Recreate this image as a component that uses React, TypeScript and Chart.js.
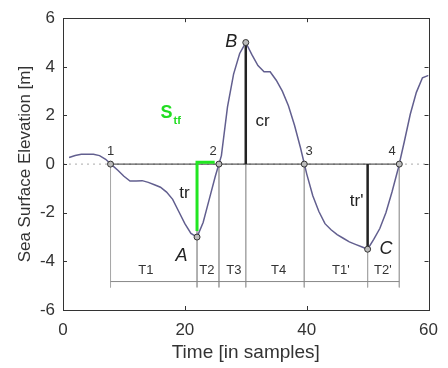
import React, { useEffect, useRef } from 'react';
import { Chart, registerables } from 'chart.js';

Chart.register(...registerables);

// ---- data ----
const sampleTimes = [
  1, 2, 3, 4, 5, 6, 7, 8, 9, 10, 11, 12, 13, 14, 15, 16, 17, 18, 19, 20,
  21, 22, 23, 24, 25, 26, 27, 28, 29, 30, 31, 32, 33, 34, 35, 36, 37, 38, 39, 40,
  41, 42, 43, 44, 45, 46, 47, 48, 49, 50, 51, 52, 53, 54, 55, 56, 57, 58, 59, 60,
];
const elevation = [
  0.27, 0.35, 0.4, 0.4, 0.4, 0.35, 0.2, -0.03, -0.25, -0.5,
  -0.7, -0.7, -0.68, -0.75, -0.85, -0.95, -1.15, -1.45, -1.95, -2.45,
  -2.85, -3.0, -2.4, -1.45, -0.5, 0.35, 2.35, 3.7, 4.55, 5.0,
  4.5, 4.05, 3.8, 3.8, 3.45, 3.0, 2.4, 1.6, 0.65, -0.4,
  -1.3, -1.95, -2.45, -2.7, -2.9, -3.05, -3.2, -3.3, -3.4, -3.5,
  -3.1, -2.65, -2.0, -1.15, -0.2, 0.9, 2.05, 2.95, 3.55, 3.65,
];

const crossingTimes = [7.8, 25.6, 39.6, 55.2];
const crossingLabels = ['1', '2', '3', '4'];
const extremeTimes = [22, 30, 50];
const extremeValues = [-3.0, 5.0, -3.5];
const extremeLabels = ['A', 'B', 'C'];
const periodLabels = ['T1', 'T2', 'T3', 'T4', "T1'", "T2'"];
const periodLabelTimes = [13.6, 23.6, 28.05, 35.4, 45.6, 52.5];
const periodLevel = -4.83;
const guideBottom = -5.07;
const greenTop = 0.08;
const greenBottom = -2.75;
const greenEnd = 24.9;

const xTicks = [0, 20, 40, 60];
const yTicks = [-6, -4, -2, 0, 2, 4, 6];

const FONT = '"Liberation Sans", Arial, Helvetica, sans-serif';

type Pt = { x: number; y: number | null };

function buildGuides(): Pt[] {
  const pts: Pt[] = [];
  const xs = [...crossingTimes, ...extremeTimes].sort((a, b) => a - b);
  xs.forEach((x) => {
    pts.push({ x, y: 0 });
    pts.push({ x, y: guideBottom });
    pts.push({ x, y: null });
  });
  return pts;
}

const labelItems = [
  { text: crossingLabels[0], x: 7.8, y: 0.52, size: 13, style: '', color: '#333' },
  { text: crossingLabels[1], x: 24.65, y: 0.52, size: 13, style: '', color: '#333' },
  { text: crossingLabels[2], x: 40.4, y: 0.52, size: 13, style: '', color: '#333' },
  { text: crossingLabels[3], x: 54.0, y: 0.52, size: 13, style: '', color: '#333' },
  { text: extremeLabels[0], x: 19.46, y: -3.76, size: 18, style: 'italic ', color: '#222' },
  { text: extremeLabels[1], x: 27.6, y: 5.03, size: 18, style: 'italic ', color: '#222' },
  { text: extremeLabels[2], x: 53.0, y: -3.51, size: 18, style: 'italic ', color: '#222' },
  { text: 'cr', x: 32.75, y: 1.74, size: 17, style: '', color: '#222' },
  { text: 'tr', x: 19.95, y: -1.19, size: 17, style: '', color: '#222' },
  { text: "tr'", x: 48.2, y: -1.52, size: 17, style: '', color: '#222' },
  ...periodLabels.map((t, i) => ({ text: t, x: periodLabelTimes[i], y: -4.37, size: 13, style: '', color: '#333' })),
];

const boxPlugin = {
  id: 'matlabBox',
  afterDatasetsDraw(chart: any) {
    const { ctx, chartArea: a, scales } = chart;
    ctx.save();
    ctx.strokeStyle = '#333';
    ctx.lineWidth = 1;
    ctx.strokeRect(Math.round(a.left) + 0.5, Math.round(a.top) + 0.5, Math.round(a.right - a.left), Math.round(a.bottom - a.top));
    const tl = 4;
    ctx.beginPath();
    xTicks.forEach((v) => {
      const px = Math.round(scales.x.getPixelForValue(v)) + 0.5;
      ctx.moveTo(px, a.bottom);
      ctx.lineTo(px, a.bottom - tl);
      ctx.moveTo(px, a.top);
      ctx.lineTo(px, a.top + tl);
    });
    yTicks.forEach((v) => {
      const py = Math.round(scales.y.getPixelForValue(v)) + 0.5;
      ctx.moveTo(a.left, py);
      ctx.lineTo(a.left + tl, py);
      ctx.moveTo(a.right, py);
      ctx.lineTo(a.right - tl, py);
    });
    ctx.stroke();

    // text annotations
    ctx.textAlign = 'center';
    ctx.textBaseline = 'middle';
    labelItems.forEach((l) => {
      ctx.font = `${l.style}${l.size}px ${FONT}`;
      ctx.fillStyle = l.color;
      ctx.fillText(l.text, scales.x.getPixelForValue(l.x), scales.y.getPixelForValue(l.y));
    });
    // S_tf
    ctx.fillStyle = '#22dd22';
    ctx.font = `bold 18px ${FONT}`;
    ctx.textAlign = 'right';
    const sx = scales.x.getPixelForValue(17.99);
    ctx.fillText('S', sx, scales.y.getPixelForValue(2.1));
    ctx.font = `bold 11px ${FONT}`;
    ctx.textAlign = 'left';
    ctx.fillText('tf', sx + 1, scales.y.getPixelForValue(1.77));
    ctx.restore();
  },
};

export default function App() {
  const ref = useRef<HTMLCanvasElement>(null);
  useEffect(() => {
    if (!ref.current) return;
    const curve = sampleTimes.map((t, i) => ({ x: t, y: elevation[i] }));
    const chart = new Chart(ref.current, {
      type: 'line',
      data: {
        datasets: [
          {
            label: 'zeroDotted',
            data: [{ x: 0, y: 0 }, { x: 60, y: 0 }],
            borderColor: '#aaa',
            borderWidth: 1,
            borderDash: [2, 4],
            pointRadius: 0,
            order: 10,
          },
          {
            label: 'guides',
            data: buildGuides(),
            borderColor: '#a8a8a8',
            borderWidth: 1,
            pointRadius: 0,
            spanGaps: false,
            order: 9,
          },
          {
            label: 'periods',
            data: [{ x: crossingTimes[0], y: periodLevel }, { x: crossingTimes[3], y: periodLevel }],
            borderColor: '#888',
            borderWidth: 1,
            pointRadius: 0,
            order: 8,
          },
          {
            label: 'zeroSolid',
            data: [{ x: crossingTimes[0], y: 0 }, { x: crossingTimes[3], y: 0 }],
            borderColor: '#333',
            borderWidth: 1,
            pointRadius: 0,
            order: 7,
          },
          {
            label: 'cr',
            data: [{ x: extremeTimes[1], y: 0 }, { x: extremeTimes[1], y: extremeValues[1] }],
            borderColor: '#222',
            borderWidth: 2.5,
            pointRadius: 0,
            order: 6,
          },
          {
            label: 'trPrime',
            data: [{ x: extremeTimes[2], y: 0 }, { x: extremeTimes[2], y: extremeValues[2] }],
            borderColor: '#222',
            borderWidth: 2.5,
            pointRadius: 0,
            order: 5,
          },
          {
            label: 'curve',
            data: curve,
            borderColor: '#625f8f',
            borderWidth: 1.5,
            pointRadius: 0,
            tension: 0,
            order: 4,
          },
          {
            label: 'Stf',
            data: [
              { x: extremeTimes[0], y: greenBottom },
              { x: extremeTimes[0], y: greenTop },
              { x: greenEnd, y: greenTop },
            ],
            borderColor: '#22e622',
            borderWidth: 3,
            pointRadius: 0,
            order: 3,
          },
          {
            label: 'markers',
            data: [
              ...crossingTimes.map((t) => ({ x: t, y: 0 })),
              ...extremeTimes.map((t, i) => ({ x: t, y: extremeValues[i] })),
            ],
            showLine: false,
            pointRadius: 3,
            pointBorderWidth: 1,
            pointBorderColor: '#333',
            pointBackgroundColor: '#bbb',
            order: 1,
          },
        ],
      },
      options: {
        animation: false,
        responsive: true,
        maintainAspectRatio: false,
        events: [],
        layout: { padding: { top: 15, right: 15, left: 0, bottom: 0 } },
        plugins: { legend: { display: false }, tooltip: { enabled: false } },
        scales: {
          x: {
            type: 'linear',
            min: 0,
            max: 60,
            grid: { display: false, drawTicks: false },
            border: { display: false },
            afterBuildTicks: (s: any) => {
              s.ticks = xTicks.map((v) => ({ value: v }));
            },
            afterFit: (s: any) => {
              s.height = 58;
            },
            ticks: {
              padding: 10,
              color: '#333',
              font: { family: FONT, size: 17 },
              maxRotation: 0,
              callback: (v: any) => String(v),
            },
            title: {
              display: true,
              text: 'Time [in samples]',
              color: '#333',
              font: { family: FONT, size: 19 },
              padding: { top: 0, bottom: 4 },
            },
          },
          y: {
            type: 'linear',
            min: -6,
            max: 6,
            grid: { display: false, drawTicks: false },
            border: { display: false },
            afterBuildTicks: (s: any) => {
              s.ticks = yTicks.map((v) => ({ value: v }));
            },
            afterFit: (s: any) => {
              s.width = 63;
            },
            ticks: {
              padding: 8,
              color: '#333',
              font: { family: FONT, size: 17 },
              callback: (v: any) => String(v),
            },
            title: {
              display: true,
              text: 'Sea Surface Elevation [m]',
              color: '#333',
              font: { family: FONT, size: 17 },
              padding: { top: 15, bottom: 0 },
            },
          },
        },
      },
      plugins: [boxPlugin],
    } as any);
    return () => chart.destroy();
  }, []);
  return (
    <div style={{ position: 'fixed', left: 0, top: 0, width: 448, height: 368, background: '#fff' }}>
      <canvas ref={ref} />
    </div>
  );
}
